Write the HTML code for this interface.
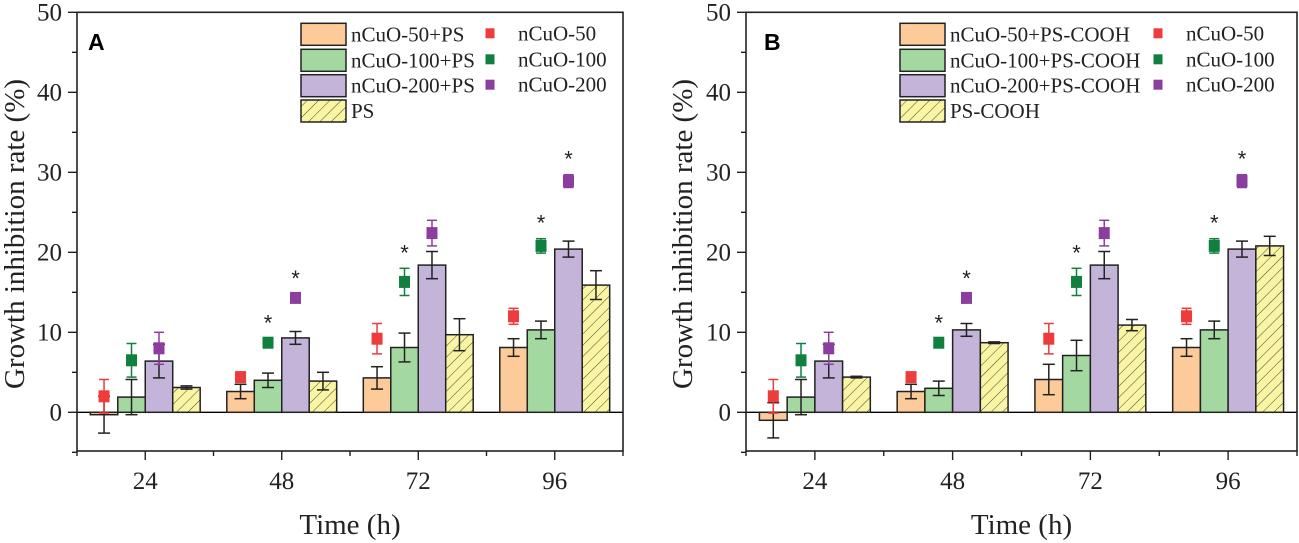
<!DOCTYPE html>
<html><head><meta charset="utf-8"><style>
body{margin:0;background:#fff}
svg{display:block}
text{font-family:"Liberation Serif",serif;fill:#222}
text.sans{font-family:"Liberation Sans",sans-serif}
</style></head><body>
<svg id="s" width="1299" height="543" viewBox="0 0 1299 543">
<defs>
<pattern id="hatch" patternUnits="userSpaceOnUse" width="8" height="8" patternTransform="rotate(45)">
<rect width="8" height="8" fill="#f9f5a2"/><line x1="0" y1="0" x2="0" y2="8" stroke="#333" stroke-width="0.9"/>
</pattern>
</defs>
</svg>
<script>
const times=[24,48,72,96];
const barsA_50=[-0.3,2.6,4.3,8.1], errA_50=[2.3,0.9,1.4,1.1];
const barsA_100=[1.9,4.0,8.1,10.3], errA_100=[2.2,0.9,1.8,1.1];
const barsA_200=[6.4,9.3,18.4,20.4], errA_200=[2.1,0.8,1.7,1.0];
const barsA_ps=[3.1,3.9,9.7,15.9], errA_ps=[0.2,1.1,2.0,1.8];
const barsB_50=[-1.0,2.6,4.1,8.1], errB_50=[2.2,0.9,1.9,1.1];
const barsB_100=[1.9,3.0,7.1,10.3], errB_100=[2.2,0.9,1.9,1.1];
const barsB_200=[6.4,10.3,18.4,20.4], errB_200=[2.1,0.8,1.7,1.0];
const barsB_ps=[4.4,8.7,10.9,20.8], errB_ps=[0.1,0.1,0.7,1.2];
const pts_50=[2.0,4.4,9.2,12.0], perr_50=[2.1,0.6,1.9,1.0];
const pts_100=[6.5,8.7,16.3,20.8], perr_100=[2.1,0.5,1.7,0.9];
const pts_200=[8.0,14.3,22.4,28.9], perr_200=[2.0,0.5,1.6,0.8];
const stars_100=[false,true,true,true];
const stars_200=[false,true,false,true];
const yTicks=[0,10,20,30,40,50];
const labelsA=["nCuO-50+PS","nCuO-100+PS","nCuO-200+PS","PS"];
const labelsB=["nCuO-50+PS-COOH","nCuO-100+PS-COOH","nCuO-200+PS-COOH","PS-COOH"];
const ptLabels=["nCuO-50","nCuO-100","nCuO-200"];

const NS="http://www.w3.org/2000/svg";
const svg=document.getElementById('s');
function el(tag,attrs,parent,txt){const e=document.createElementNS(NS,tag);for(const k in attrs)e.setAttribute(k,attrs[k]);if(txt!==undefined)e.textContent=txt;(parent||svg).appendChild(e);return e;}
const fills=["#fccb99","#a3d9a1","#c5b4da","url(#hatch)"];
const pcol=["#ee3b3b","#10803f","#8b3e9e"];

function panel(L,R,letter,bars,errs,labels,legX,ptX,tx,labX){
  const T=12.3,B=451;
  const y=v=>412.3-v*8;
  const x=t=>L+(t-12)*(R-L)/96;
  const g=el('g',{});
  
  
  const bw=(x(12+4.83)-x(12));
  const z=el('line',{x1:L,x2:R,y1:y(0),y2:y(0),stroke:'#000','stroke-width':1.4},g);
  
  times.forEach((t,i)=>{
    for(let s=0;s<4;s++){
      const cx=x(t)+(s-1.5)*bw, v=bars[s][i], e=errs[s][i];
      const r=el('rect',{x:cx-bw/2,y:Math.min(y(v),y(0)),width:bw,height:Math.abs(y(v)-y(0)),fill:fills[s],stroke:'#222','stroke-width':1.5},g);
      
      
      const eg=el('g',{stroke:'#222','stroke-width':1.5},g);
      
      el('line',{x1:cx,x2:cx,y1:y(v-e),y2:y(v+e)},eg);
      el('line',{x1:cx-6,x2:cx+6,y1:y(v-e),y2:y(v-e)},eg);
      el('line',{x1:cx-6,x2:cx+6,y1:y(v+e),y2:y(v+e)},eg);
    }
    const P=[pts_50,pts_100,pts_200],PE=[perr_50,perr_100,perr_200];
    for(let s=0;s<3;s++){
      const cx=x(t)+(s-1.5)*bw, v=P[s][i], e=PE[s][i];
      const pg=el('g',{stroke:pcol[s],'stroke-width':1.5},g);
      
      
      el('line',{x1:cx,x2:cx,y1:y(v-e),y2:y(v+e)},pg);
      el('line',{x1:cx-5,x2:cx+5,y1:y(v-e),y2:y(v-e)},pg);
      el('line',{x1:cx-5,x2:cx+5,y1:y(v+e),y2:y(v+e)},pg);
      el('rect',{x:cx-5.5,y:y(v)-6,width:11,height:12,fill:pcol[s],stroke:'none'},pg);
      const st=(s===1?stars_100[i]:s===2?stars_200[i]:false);
      if(st){const a=el('text',{x:cx,y:y(v+e)-8,'text-anchor':'middle','font-size':22,class:'sans'},g,'*');
        }
    }
  });
  const f=el('rect',{x:L,y:T,width:R-L,height:B-T,fill:'none',stroke:'#222','stroke-width':1.6},g);
  
  for(let v=-5;v<=50;v+=5){
    const maj=v%10===0;
    el('line',{x1:L-(maj?9:5),x2:L,y1:y(v),y2:y(v),stroke:'#222','stroke-width':1.4},g);
  }
  yTicks.forEach(v=>{const a=el('text',{x:L-15,y:y(v)+8,'text-anchor':'end','font-size':25},g,String(v));
    });
  for(let t=12;t<=108;t+=12){
    const maj=(t-24)%24===0;
    el('line',{x1:x(t),x2:x(t),y1:B,y2:B+(maj?9:5),stroke:'#222','stroke-width':1.4},g);
  }
  times.forEach(t=>{const a=el('text',{x:x(t),y:489,'text-anchor':'middle','font-size':25},g,String(t));
    });
  const xt=el('text',{x:(L+R)/2,y:534,'text-anchor':'middle','font-size':29},g,'Time (h)');
  
  const yt=el('text',{x:0,y:0,'text-anchor':'middle','font-size':29,transform:`translate(${tx},234) rotate(-90)`},g,'Growth inhibition rate (%)');
  
  const pl=el('text',{x:labX,y:50,'font-size':23,'font-weight':'bold',class:'sans',style:'fill:#000'},g,letter);
  
  const lg=el('g',{},g);
  
  const rows=[23.3,49.3,74.7,100];
  for(let s=0;s<4;s++){
    const r=el('rect',{x:legX,y:rows[s],width:45,height:22,fill:fills[s],stroke:'#222','stroke-width':1.5},lg);
    
    const tt=el('text',{x:legX+50,y:rows[s]+18,'font-size':21},lg,labels[s]);
    
  }
  for(let s=0;s<3;s++){
    const r=el('rect',{x:ptX-4.5,y:rows[s]+5,width:9,height:10,fill:pcol[s]},lg);
    
    const tt=el('text',{x:ptX+28,y:rows[s]+17,'font-size':21},lg,ptLabels[s]);
    
  }
}
panel(77,623,'A',[barsA_50,barsA_100,barsA_200,barsA_ps],[errA_50,errA_100,errA_200,errA_ps],labelsA,301,490,24,88);
panel(746,1297,'B',[barsB_50,barsB_100,barsB_200,barsB_ps],[errB_50,errB_100,errB_200,errB_ps],labelsB,900,1158,692,764);
</script>
</body></html>
